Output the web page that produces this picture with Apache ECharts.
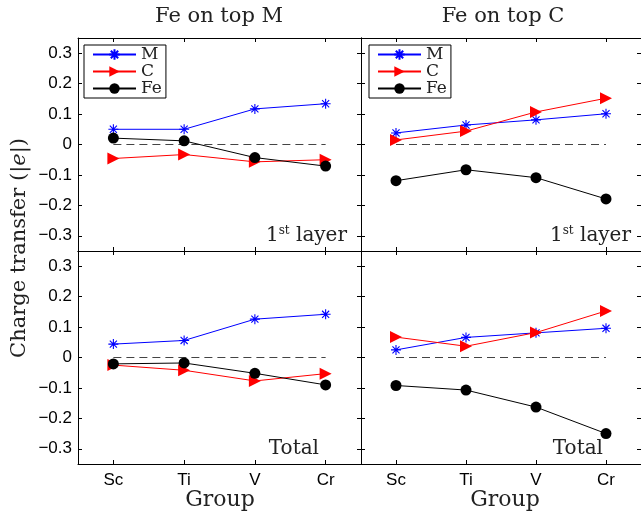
<!DOCTYPE html>
<html>
<head>
<meta charset="utf-8">
<script src="https://cdn.jsdelivr.net/npm/echarts@6/dist/echarts.min.js"></script>
<style>html,body{margin:0;padding:0;background:#fff;}#c{width:641px;height:515px;}</style>
</head>
<body>
<div id="c"></div>
<script>
// ---- data ----
const groups = ['Sc', 'Ti', 'V', 'Cr'];
const yTicks = [-0.3, -0.2, -0.1, 0, 0.1, 0.2, 0.3];
const zeroLine = [0, 0, 0, 0];

// Fe on top M, 1st layer
const onM_layer_M  = [0.050, 0.050, 0.117, 0.134];
const onM_layer_C  = [-0.046, -0.033, -0.057, -0.050];
const onM_layer_Fe = [0.021, 0.012, -0.043, -0.071];
// Fe on top C, 1st layer
const onC_layer_M  = [0.038, 0.064, 0.081, 0.101];
const onC_layer_C  = [0.015, 0.044, 0.107, 0.152];
const onC_layer_Fe = [-0.119, -0.083, -0.109, -0.179];
// Fe on top M, Total
const onM_total_M  = [0.044, 0.056, 0.126, 0.142];
const onM_total_C  = [-0.025, -0.042, -0.077, -0.053];
const onM_total_Fe = [-0.021, -0.018, -0.052, -0.090];
// Fe on top C, Total
const onC_total_M  = [0.025, 0.066, 0.081, 0.096];
const onC_total_C  = [0.067, 0.037, 0.082, 0.153];
const onC_total_Fe = [-0.092, -0.107, -0.163, -0.250];

const panels = [
  { M: onM_layer_M, C: onM_layer_C, Fe: onM_layer_Fe },
  { M: onC_layer_M, C: onC_layer_C, Fe: onC_layer_Fe },
  { M: onM_total_M, C: onM_total_C, Fe: onM_total_Fe },
  { M: onC_total_M, C: onC_total_C, Fe: onC_total_Fe }
];

// ---- layout ----
const SERIF = '"DejaVu Serif", serif';
const SANS = 'Liberation Sans';
const TXT = '#222';
const grids = [
  { left: 78, top: 38, width: 283, height: 213 },
  { left: 361, top: 38, width: 284, height: 213 },
  { left: 78, top: 251, width: 283, height: 213 },
  { left: 361, top: 251, width: 284, height: 213 }
];

const asterisk = 'path://M0,-1L0,1M-1,0L1,0M-0.71,-0.71L0.71,0.71M-0.71,0.71L0.71,-0.71';

const xAxes = [], yAxes = [], series = [];
grids.forEach((g, i) => {
  const showX = i >= 2, showY = (i % 2 === 0);
  const axLine = { show: true, onZero: false, lineStyle: { color: '#000', width: 1 } };
  xAxes.push({
    type: 'category', gridIndex: i, position: 'bottom', data: groups,
    axisLine: axLine,
    axisTick: { show: true, inside: true, alignWithLabel: true, length: 4, lineStyle: { color: '#000' } },
    axisLabel: { show: showX, color: '#000', fontFamily: SANS, fontSize: 17, margin: 8 },
    splitLine: { show: false }
  });
  xAxes.push({
    type: 'category', gridIndex: i, position: 'top', data: groups,
    axisLine: axLine,
    axisTick: { show: true, inside: true, alignWithLabel: true, length: 4, lineStyle: { color: '#000' } },
    axisLabel: { show: false }, splitLine: { show: false }
  });
  const yBase = {
    type: 'value', gridIndex: i, min: -0.35, max: 0.35,
    axisLine: { show: true, lineStyle: { color: '#000', width: 1 } },
    splitLine: { show: false }
  };
  yAxes.push(Object.assign({}, yBase, {
    position: 'left',
    axisTick: { show: true, inside: true, length: 4, customValues: yTicks, lineStyle: { color: '#000' } },
    axisLabel: {
      show: showY, customValues: yTicks, color: '#000', fontFamily: SANS, fontSize: 17, margin: 6,
      formatter: v => Math.abs(v) < 1e-9 ? '0' : (v < 0 ? '\u2212' + Math.abs(v).toFixed(1) : v.toFixed(1))
    }
  }));
  yAxes.push(Object.assign({}, yBase, {
    position: 'right',
    axisTick: { show: true, inside: true, length: 4, customValues: yTicks, lineStyle: { color: '#000' } },
    axisLabel: { show: false }
  }));

  const xi = i * 2, yi = i * 2;
  const p = panels[i];
  series.push({
    type: 'line', name: 'zero', xAxisIndex: xi, yAxisIndex: yi, data: zeroLine,
    symbol: 'none', lineStyle: { color: '#444', width: 1.2, type: [8, 5] }, silent: true, z: 1
  });
  series.push({
    type: 'line', name: 'M', xAxisIndex: xi, yAxisIndex: yi, data: p.M,
    symbol: asterisk, symbolSize: 10,
    itemStyle: { color: '#0000ff', borderColor: '#0000ff', borderWidth: 1.1 },
    lineStyle: { color: '#0000ff', width: 1 }, z: 2
  });
  series.push({
    type: 'line', name: 'C', xAxisIndex: xi, yAxisIndex: yi, data: p.C,
    symbol: 'triangle', symbolRotate: -90, symbolSize: [12, 12],
    itemStyle: { color: '#ff0000', borderWidth: 0 },
    lineStyle: { color: '#ff0000', width: 1 }, z: 3
  });
  series.push({
    type: 'line', name: 'Fe', xAxisIndex: xi, yAxisIndex: yi, data: p.Fe,
    symbol: 'circle', symbolSize: 11,
    itemStyle: { color: '#000', borderWidth: 0 },
    lineStyle: { color: '#000', width: 1 }, z: 4
  });
});

const legendBase = {
  orient: 'vertical', data: ['M', 'C', 'Fe'], top: 45,
  backgroundColor: '#fff', borderColor: '#000', borderWidth: 1, borderRadius: 0,
  padding: [1, 4, 1, 8], itemGap: 0, itemWidth: 43, itemHeight: 13,
  textStyle: { fontFamily: SERIF, fontSize: 17, color: TXT, lineHeight: 16 },
  selectedMode: false
};

const option = {
  backgroundColor: '#fff',
  animation: false,
  grid: grids.map(g => Object.assign({ containLabel: false }, g)),
  xAxis: xAxes,
  yAxis: yAxes,
  series: series,
  legend: [
    Object.assign({}, legendBase, { left: 84 }),
    Object.assign({}, legendBase, { left: 369 })
  ],
  graphic: [
    { type: 'text', x: 219, y: 17, style: { text: 'Fe on top M', font: '21px ' + SERIF, fill: TXT, align: 'center', verticalAlign: 'middle' } },
    { type: 'text', x: 503, y: 17, style: { text: 'Fe on top C', font: '21px ' + SERIF, fill: TXT, align: 'center', verticalAlign: 'middle' } },
    { type: 'text', x: 220, y: 500, style: { text: 'Group', font: '22px ' + SERIF, fill: TXT, align: 'center', verticalAlign: 'middle' } },
    { type: 'text', x: 505, y: 500, style: { text: 'Group', font: '22px ' + SERIF, fill: TXT, align: 'center', verticalAlign: 'middle' } },
    { type: 'text', x: 20, y: 248, rotation: Math.PI / 2,
      style: { text: '{n|Charge transfer (|}{i|e}{n||)}', align: 'center', verticalAlign: 'middle',
        rich: { n: { font: '21px ' + SERIF, fill: TXT }, i: { font: 'italic 21px ' + SERIF, fill: TXT } } } },
    { type: 'text', x: 347, y: 236,
      style: { text: '{a|1}{s|st}{a| layer}', align: 'right', verticalAlign: 'middle',
        rich: { a: { font: '20px ' + SERIF, fill: TXT, lineHeight: 22 }, s: { font: '12px ' + SERIF, fill: TXT, verticalAlign: 'top', lineHeight: 14 } } } },
    { type: 'text', x: 631, y: 236,
      style: { text: '{a|1}{s|st}{a| layer}', align: 'right', verticalAlign: 'middle',
        rich: { a: { font: '20px ' + SERIF, fill: TXT, lineHeight: 22 }, s: { font: '12px ' + SERIF, fill: TXT, verticalAlign: 'top', lineHeight: 14 } } } },
    { type: 'text', x: 319, y: 449, style: { text: 'Total', font: '20px ' + SERIF, fill: TXT, align: 'right', verticalAlign: 'middle' } },
    { type: 'text', x: 603, y: 449, style: { text: 'Total', font: '20px ' + SERIF, fill: TXT, align: 'right', verticalAlign: 'middle' } }
  ]
};

const chart = echarts.init(document.getElementById('c'), null, { renderer: 'canvas' });
chart.setOption(option);
</script>
</body>
</html>
